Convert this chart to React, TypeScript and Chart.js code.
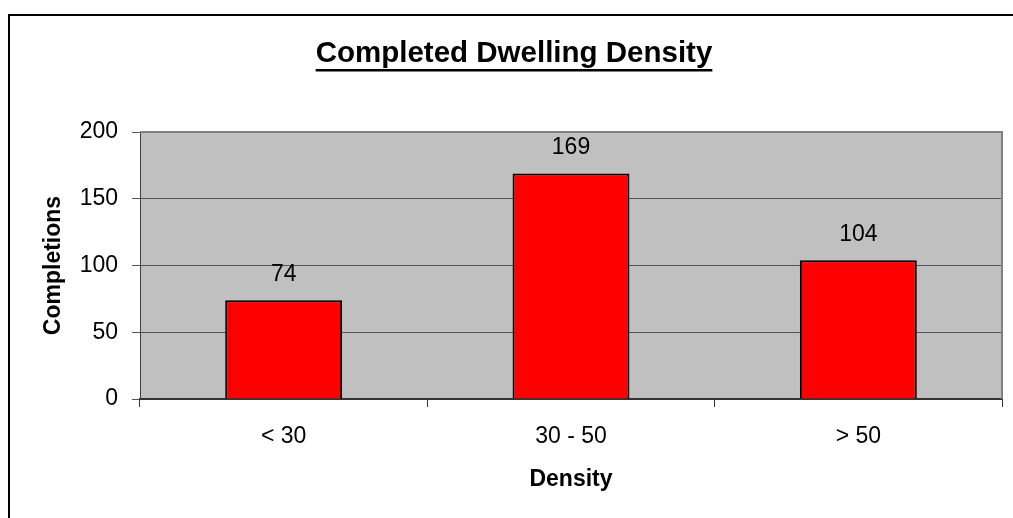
import React, { useEffect, useRef } from "react";
import { Chart, registerables } from "chart.js";

Chart.register(...registerables);

const chartTitle = "Completed Dwelling Density";
const categories = ["< 30", "30 - 50", "> 50"];
const completions = [74, 169, 104];
const yTicks = [0, 50, 100, 150, 200];
const xAxisTitle = "Density";
const yAxisTitle = "Completions";

const FONT = "'Liberation Sans', Arial, sans-serif";

export default function App() {
  const ref = useRef<HTMLCanvasElement | null>(null);

  useEffect(() => {
    if (!ref.current) return;
    const bgPlugin = {
      id: "plotBg",
      beforeDraw(chart: any) {
        const { ctx, chartArea: a } = chart;
        ctx.save();
        ctx.fillStyle = "#C0C0C0";
        ctx.fillRect(a.left, a.top, a.right - a.left, a.bottom - a.top);
        ctx.restore();
      },
      afterDraw(chart: any) {
        const { ctx, chartArea: a } = chart;
        ctx.save();
        // top & right plot border
        ctx.strokeStyle = "#808080";
        ctx.lineWidth = 2;
        ctx.beginPath();
        ctx.moveTo(a.left, a.top);
        ctx.lineTo(a.right, a.top);
        ctx.lineTo(a.right, a.bottom);
        ctx.stroke();
        // title with underline
        ctx.fillStyle = "#000";
        ctx.font = `bold 29.5px ${FONT}`;
        ctx.textAlign = "center";
        ctx.textBaseline = "alphabetic";
        const cx = 504;
        const by = 46;
        ctx.fillText(chartTitle, cx, by);
        const w = ctx.measureText(chartTitle).width;
        ctx.fillRect(cx - w / 2, by + 7, w, 2.5);
        // data labels
        ctx.font = `23px ${FONT}`;
        const meta = chart.getDatasetMeta(0);
        meta.data.forEach((bar: any, i: number) => {
          ctx.fillText(String(completions[i]), bar.x, bar.y - 19);
        });
        ctx.restore();
      },
    };

    const chart = new Chart(ref.current, {
      type: "bar",
      data: {
        labels: categories,
        datasets: [
          {
            data: completions,
            backgroundColor: "#FF0000",
            borderColor: "#000000",
            borderWidth: 2,
            categoryPercentage: 1,
            barPercentage: 0.407,
          },
        ],
      },
      options: {
        responsive: false,
        animation: false,
        layout: { padding: { top: 116, right: 11, bottom: 0, left: 0 } },
        plugins: {
          legend: { display: false },
          tooltip: { enabled: false },
          title: { display: false },
        },
        scales: {
          x: {
            offset: true,
            grid: {
              offset: true,
              drawOnChartArea: false,
              drawTicks: true,
              tickLength: 8,
              tickColor: "#333333",
              lineWidth: 1,
            },
            border: { display: true, color: "#333333", width: 2 },
            ticks: {
              color: "#000",
              padding: 16,
              font: { family: FONT, size: 23 },
            },
            title: {
              display: true,
              text: xAxisTitle,
              color: "#000",
              font: { family: FONT, size: 23, weight: "bold" },
              padding: { top: 0, bottom: 25 },
            },
            afterFit(scale: any) {
              scale.height = 119;
            },
          },
          y: {
            min: 0,
            max: 200,
            afterBuildTicks(scale: any) {
              scale.ticks = yTicks.map((v) => ({ value: v }));
            },
            grid: {
              color: "#555555",
              lineWidth: 1,
              tickLength: 8,
              tickColor: "#555555",
            },
            border: { display: true, color: "#404040", width: 1 },
            ticks: {
              color: "#000",
              padding: 14,
              font: { family: FONT, size: 23 },
            },
            title: {
              display: true,
              text: yAxisTitle,
              color: "#000",
              font: { family: FONT, size: 23, weight: "bold" },
              padding: { top: 30, bottom: 0 },
            },
            afterFit(scale: any) {
              scale.width = 130;
            },
          },
        },
      },
      plugins: [bgPlugin],
    } as any);
    return () => chart.destroy();
  }, []);

  return (
    <div
      style={{
        position: "absolute",
        left: 8,
        top: 14,
        width: 1005,
        height: 504,
        borderTop: "2px solid #000",
        borderLeft: "2px solid #000",
        boxSizing: "border-box",
        background: "#fff",
      }}
    >
      <canvas ref={ref} width={1003} height={502} style={{ display: "block" }} />
    </div>
  );
}
